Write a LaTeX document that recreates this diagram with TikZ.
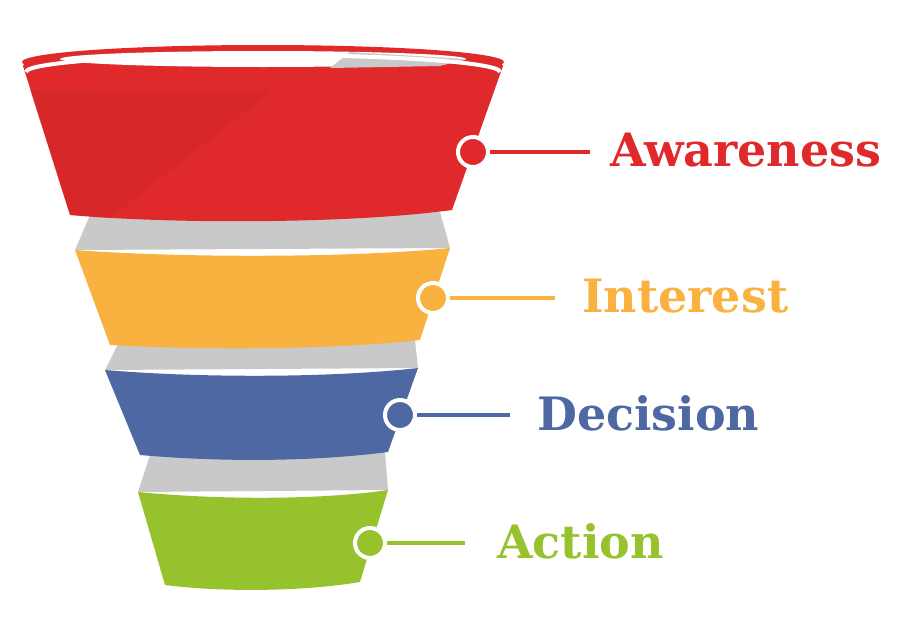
\documentclass[tikz,border=0pt]{standalone}
\usepackage{fontspec}
\setmainfont{DejaVu Serif}
\usetikzlibrary{positioning}
\definecolor{fred}{HTML}{E0292B}
\definecolor{fyellow}{HTML}{F9B23F}
\definecolor{fblue}{HTML}{4D68A2}
\definecolor{fgreen}{HTML}{96C22D}
\definecolor{fgray}{HTML}{C9C9C9}
\tikzset{
  dot/.style={circle, draw=white, line width=4pt, minimum size=30pt, inner sep=0pt},
  lbl/.style={font=\fontsize{46}{46}\selectfont\bfseries, anchor=west, inner sep=0pt},
  stem/.style={line width=4pt}
}
\begin{document}
\begin{tikzpicture}[x=1pt, y=-1pt]
\useasboundingbox (0,0) rectangle (900,640);
% gray backs
\fill[fgray] (75,250) -- (90,215) -- (440,212) -- (450,248) -- cycle;
\fill[fgray] (105,370) -- (118,344) -- (415,340) -- (418,368) -- cycle;
\fill[fgray] (138,492) -- (150,455) -- (385,452) -- (388,490) -- cycle;
% bands
\fill[fred] (23,66) arc (180:360:240 and 20)
  -- (452,210) .. controls (350,224) and (170,224) .. (70,215) -- cycle;
\fill[fred!85!black, opacity=.25] (30,90) -- (70,215) -- (110,218) -- (270,92) -- cycle;
\fill[fred] (263,62) ellipse (241 and 17);
\fill[white] (263,59) ellipse (203 and 8);
\fill[fgray] (330,68) -- (350,52) -- (466,59) -- (440,66) -- cycle;
\draw[white, line width=4pt] (26,72) arc (180:360:237 and 17);
\fill[fyellow] (75,250) .. controls (180,258) and (350,258) .. (450,248)
  -- (420,340) .. controls (330,350) and (200,350) .. (110,345) -- cycle;
\fill[fblue] (105,370) .. controls (200,378) and (330,378) .. (418,368)
  -- (388,452) .. controls (310,462) and (220,462) .. (140,455) -- cycle;
\fill[fgreen] (138,492) .. controls (220,500) and (320,500) .. (388,490)
  -- (360,582) .. controls (300,592) and (220,592) .. (165,585) -- cycle;
% labels
\node[dot, fill=fred] (dA) at (473,152) {};
\node[lbl, text=fred] (tA) at (610,150) {Awareness};
\draw[stem, fred] (dA) -- (590,152);
\node[dot, fill=fyellow] (dI) at (433,298) {};
\node[lbl, text=fyellow] (tI) at (582,296) {Interest};
\draw[stem, fyellow] (dI) -- (555,298);
\node[dot, fill=fblue] (dD) at (400,415) {};
\node[lbl, text=fblue] (tD) at (537,413) {Decision};
\draw[stem, fblue] (dD) -- (510,415);
\node[dot, fill=fgreen] (dC) at (370,543) {};
\node[lbl, text=fgreen] (tC) at (497,541) {Action};
\draw[stem, fgreen] (dC) -- (465,543);
\end{tikzpicture}
\end{document}
